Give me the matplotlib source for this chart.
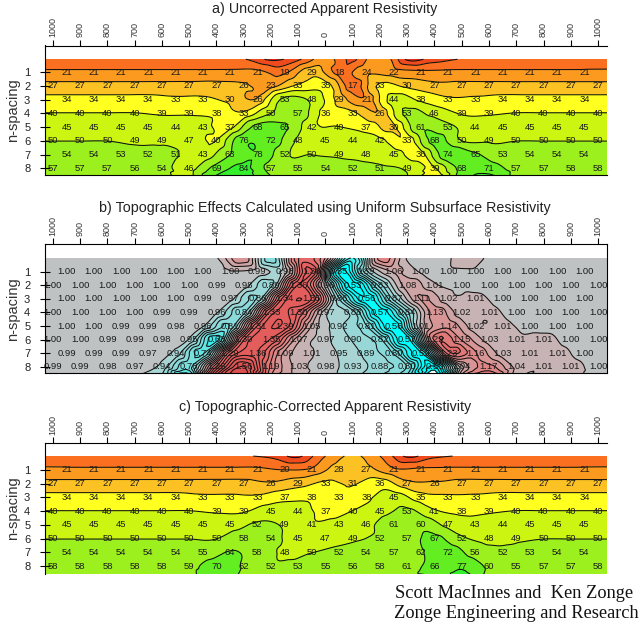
import numpy as np
import matplotlib
matplotlib.use('Agg')
import matplotlib.pyplot as plt
import matplotlib.tri as mtri
from matplotlib.colors import LinearSegmentedColormap, Normalize

plt.rcParams['font.family'] = ['Liberation Sans', 'DejaVu Sans']

# stations along the line, even n-spacing rows sit on the hundreds, odd rows between them
x_even = [-1000, -900, -800, -700, -600, -500, -400, -300, -200, -100, 0,
          100, 200, 300, 400, 500, 600, 700, 800, 900, 1000]
x_odd = [-950, -850, -750, -650, -550, -450, -350, -250, -150, -50,
         50, 150, 250, 350, 450, 550, 650, 750, 850, 950]
tick_pos = x_even
tick_text = ['1000', '900', '800', '700', '600', '500', '400', '300', '200', '100', '0',
             '100', '200', '300', '400', '500', '600', '700', '800', '900', '1000']
n_rows = [1, 2, 3, 4, 5, 6, 7, 8]

# a) uncorrected
a_top = [16, 16, 16, 16, 16, 16, 16, 16, 12, 15, 22, 15, 24, 12, 14, 16, 16, 16, 16, 16, 17]
a1 = [21, 21, 21, 21, 21, 21, 21, 21, 19, 29, 18, 24, 22, 21, 21, 21, 21, 21, 21, 21]
a2 = [27, 27, 27, 27, 27, 27, 27, 26, 23, 33, 35, 17, 33, 30, 27, 27, 27, 27, 27, 27, 27]
a3 = [34, 34, 34, 34, 33, 33, 30, 26, 53, 48, 29, 21, 44, 38, 33, 33, 34, 34, 34, 34]
a4 = [40, 40, 40, 40, 39, 39, 38, 33, 50, 57, 36, 33, 26, 53, 46, 39, 39, 40, 40, 40, 40]
a5 = [45, 45, 45, 45, 44, 43, 37, 68, 65, 42, 40, 37, 30, 61, 53, 44, 45, 45, 45, 45]
a6 = [50, 50, 50, 49, 49, 47, 40, 76, 72, 48, 45, 44, 42, 33, 68, 50, 49, 50, 50, 50, 50]
a7 = [54, 54, 53, 52, 51, 43, 63, 78, 52, 50, 49, 48, 45, 36, 74, 65, 53, 54, 54, 54]
a8 = [57, 57, 57, 56, 54, 46, 69, 84, 57, 55, 54, 52, 51, 49, 39, 68, 71, 57, 57, 58, 58]
a_bot = [59, 59, 58, 58, 55, 47, 82, 88, 64, 56, 55, 53, 52, 50, 31, 72, 84, 58, 58, 59, 59]

# b) topographic effect
b_top = [1.0, 1.0, 1.0, 1.0, 1.0, 1.0, 1.0, 1.15, 0.82, 1.25, 1.15, 0.70, 1.18, 1.0, 0.96, 1.03,
         1.0, 1.0, 1.0, 1.0, 1.0]
b1 = [1.00, 1.00, 1.00, 1.00, 1.00, 1.00, 1.00, 0.99, 0.98, 1.36, 0.55, 0.89, 1.06, 1.00, 1.00,
      1.00, 1.00, 1.00, 1.00, 1.00]
b2 = [1.00, 1.00, 1.00, 1.00, 1.00, 1.00, 0.99, 0.98, 0.89, 1.36, 0.98, 0.53, 0.83, 1.08, 1.01,
      1.00, 1.00, 1.00, 1.00, 1.00, 1.00]
b3 = [1.00, 1.00, 1.00, 1.00, 1.00, 0.99, 0.97, 0.86, 1.34, 1.35, 0.86, 0.56, 0.87, 1.11, 1.02,
      1.01, 1.00, 1.00, 1.00, 1.00]
b4 = [1.00, 1.00, 1.00, 1.00, 0.99, 0.99, 0.96, 0.84, 1.33, 1.30, 0.97, 0.88, 0.57, 0.84, 1.13,
      1.02, 1.01, 1.00, 1.00, 1.00, 1.00]
b5 = [1.00, 1.00, 0.99, 0.99, 0.98, 0.96, 0.81, 1.31, 1.39, 1.05, 0.92, 0.81, 0.56, 1.01, 1.14,
      1.02, 1.01, 1.00, 1.00, 1.00]
b6 = [1.00, 1.00, 0.99, 0.99, 0.98, 0.95, 0.68, 1.30, 1.35, 1.07, 0.97, 0.90, 0.82, 0.57, 1.22,
      1.15, 1.03, 1.01, 1.01, 1.00, 1.00]
b7 = [0.99, 0.99, 0.99, 0.97, 0.94, 0.74, 1.29, 1.36, 1.09, 1.01, 0.95, 0.89, 0.80, 0.59, 1.23,
      1.16, 1.03, 1.01, 1.01, 1.00]
b8 = [0.99, 0.99, 0.98, 0.97, 0.94, 0.78, 1.26, 1.56, 1.19, 1.03, 0.98, 0.93, 0.88, 0.80, 0.50,
      1.04, 1.17, 1.04, 1.01, 1.01, 1.00]
b_bot = [0.99, 0.99, 0.98, 0.96, 0.90, 0.68, 1.40, 1.60, 1.16, 1.03, 0.98, 0.92, 0.86, 0.75, 0.40,
         1.12, 1.25, 1.03, 1.01, 1.01, 1.00]

# c) corrected
c_top = [17, 16, 16, 16, 16, 16, 16, 16, 15, 12, 20, 26, 20, 12, 15, 16, 16, 16, 16, 16, 17]
c1 = [21, 21, 21, 21, 21, 21, 21, 21, 20, 21, 28, 27, 21, 21, 21, 21, 21, 21, 21, 21]
c2 = [27, 27, 27, 27, 27, 27, 27, 27, 26, 29, 33, 31, 36, 27, 26, 27, 27, 27, 27, 27, 27]
c3 = [34, 34, 34, 34, 34, 33, 33, 33, 37, 38, 33, 38, 45, 35, 33, 33, 34, 34, 34, 34]
c4 = [40, 40, 40, 40, 40, 40, 39, 39, 45, 44, 37, 40, 45, 53, 41, 38, 39, 40, 40, 40, 40]
c5 = [45, 45, 45, 45, 45, 45, 45, 52, 49, 41, 43, 46, 61, 60, 47, 43, 44, 45, 45, 45]
c6 = [50, 50, 50, 50, 50, 50, 50, 58, 54, 45, 47, 49, 52, 57, 67, 52, 48, 49, 50, 50, 50]
c7 = [54, 54, 54, 54, 54, 55, 64, 58, 48, 50, 52, 54, 57, 62, 72, 56, 52, 53, 54, 54]
c8 = [58, 58, 58, 58, 58, 59, 70, 62, 52, 53, 55, 56, 58, 61, 66, 77, 60, 55, 57, 57, 58]
c_bot = [59, 59, 59, 59, 59, 60, 72, 60, 53, 54, 56, 57, 59, 62, 65, 84, 58, 56, 57, 58, 59]

res_levels = [10, 12.6, 15.8, 20, 25.1, 31.6, 39.8, 50.1, 63.1, 79.4, 100, 126]
res_colors = ['#e22c1e', '#ee4a1e', '#fa7020', '#fc9a20', '#fcc224', '#ffff20',
              '#ccf612', '#9cf01e', '#62ee20', '#34f02c', '#20f040']
topo_levels = np.arange(0.455, 1.81, 0.05)
topo_cmap = LinearSegmentedColormap.from_list('topo', [
    (0.0, '#00ffff'), (0.11, '#00ffff'), (0.22, '#70e0e0'), (0.37, '#b0d2d2'), (0.39, '#c0c0c0'),
    (0.43, '#c8b2b2'), (0.52, '#dc8c8c'), (0.63, '#e66262'), (1.0, '#d84040')])


def place_axes(fig, top, bot):
    W, H = 641.0, 626.0
    left, right = 44.5, 607.0
    return fig.add_axes([left / W, 1 - bot / H, (right - left) / W, (bot - top) / H])


def build_tri(rows, top, bot, y_top, y_bot):
    xs, ys, vs = [], [], []
    all_rows = [(y_top, top)] + [(n, r) for n, r in zip(n_rows, rows)] + [(y_bot, bot)]
    for y, vals in all_rows:
        pos = x_even if len(vals) == len(x_even) else x_odd
        # hold the end values out to the frame so the fill reaches both sides
        px = [-1040] + list(pos) + [1040]
        pv = [vals[0]] + list(vals) + [vals[-1]]
        xs += px
        ys += [y] * len(px)
        vs += pv
    xs = np.array(xs, float)
    ys = np.array(ys, float)
    vs = np.array(vs, float)
    base = mtri.Triangulation(xs / 100.0, ys)
    tri = mtri.Triangulation(xs, ys, base.triangles)
    refiner = mtri.UniformTriRefiner(tri)
    interp = mtri.CubicTriInterpolator(tri, vs, kind='geom')
    return refiner.refine_field(vs, interp, subdiv=3)


def panel(ax, rows, top, bot, title, fmt, levels, colors, y_rng, y_top):
    tt, zz = build_tri(rows, top, bot, y_top, y_rng[0] + 0.2)
    if colors is None:
        ax.tricontourf(tt, zz, levels=levels, cmap=topo_cmap, norm=Normalize(0.455, 1.805))
    else:
        ax.tricontourf(tt, zz, levels=levels, colors=colors)
    ax.tricontour(tt, zz, levels=levels, colors='#101010', linewidths=0.75)
    for n, vals in zip(n_rows, rows):
        pos = x_even if len(vals) == len(x_even) else x_odd
        for x, v in zip(pos, vals):
            ax.text(x, n, fmt % v, ha='center', va='center', fontsize=6.8, color='#1a1a1a',
                    clip_on=False)
    ax.set_xlim(-1031, 1033)
    ax.set_ylim(y_rng[0], y_rng[1])
    ax.xaxis.tick_top()
    ax.set_xticks(tick_pos)
    ax.set_xticklabels(tick_text, rotation=90, fontsize=6.5, color='#333333')
    ax.set_yticks(n_rows)
    ax.set_yticklabels([str(n) for n in n_rows], fontsize=8, color='#222222')
    ax.tick_params(axis='x', direction='out', length=4.5, width=0.8, pad=1.5)
    ax.tick_params(axis='y', direction='inout', length=6.5, width=0.8, pad=7)
    ax.set_ylabel('n-spacing', fontsize=10.5, color='#333333', labelpad=3)
    fig.text(325 / 641.0, 1 - (ax_title_y[title]) / 626.0, title, ha='center', va='center',
             fontsize=10.3, color='#222222')


fig = plt.figure(figsize=(6.41, 6.26), dpi=100)
ax_title_y = {
    'a) Uncorrected Apparent Resistivity': 9,
    'b) Topographic Effects Calculated using Uniform Subsurface Resistivity': 208,
    'c) Topographic-Corrected Apparent Resistivity': 407,
}

ax_a = place_axes(fig, 45.5, 175)
panel(ax_a, [a1, a2, a3, a4, a5, a6, a7, a8], a_top, a_bot,
      'a) Uncorrected Apparent Resistivity', '%d', res_levels, res_colors, (8.49, -0.93), 0.07)
ax_a.spines['right'].set_visible(False)

ax_b = place_axes(fig, 244.3, 373)
panel(ax_b, [b1, b2, b3, b4, b5, b6, b7, b8], b_top, b_bot,
      'b) Topographic Effects Calculated using Uniform Subsurface Resistivity', '%.2f',
      topo_levels, None, (8.46, -1.02), 0.0)

ax_c = place_axes(fig, 443.3, 573.7)
panel(ax_c, [c1, c2, c3, c4, c5, c6, c7, c8], c_top, c_bot,
      'c) Topographic-Corrected Apparent Resistivity', '%d', res_levels, res_colors,
      (8.54, -0.93), 0.0)
ax_c.spines['right'].set_visible(False)
ax_c.spines['bottom'].set_visible(False)

fig.text(395 / 641.0, 1 - 593 / 626.0, 'Scott MacInnes and  Ken Zonge', family='Liberation Serif',
         fontsize=13.2, ha='left', va='center', color='#111111')
fig.text(394 / 641.0, 1 - 613 / 626.0, 'Zonge Engineering and Research', family='Liberation Serif',
         fontsize=13.2, ha='left', va='center', color='#111111')

fig.savefig('out.png', dpi=100)
